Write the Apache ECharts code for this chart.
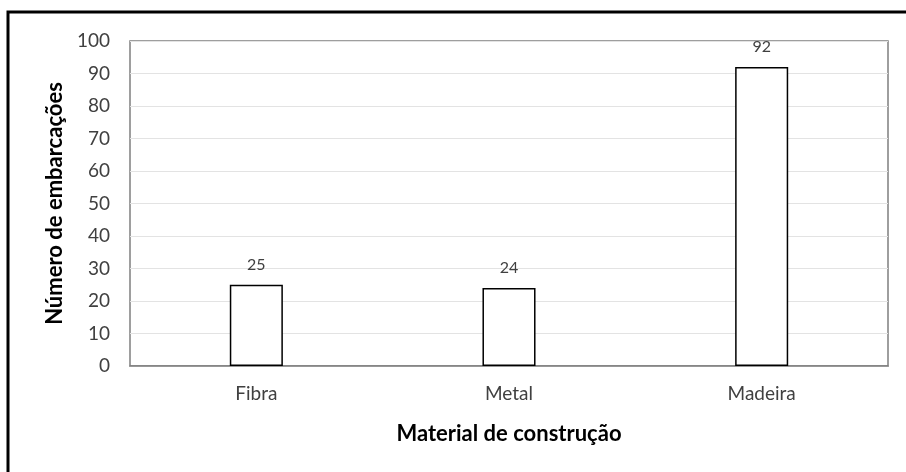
<!DOCTYPE html>
<html>
<head>
<meta charset="utf-8">
<script src="https://cdn.jsdelivr.net/npm/echarts@6/dist/echarts.min.js"></script>
<style>
html,body{margin:0;padding:0;background:#fff;}
#chart{width:906px;height:472px;}
</style>
</head>
<body>
<div id="chart"></div>
<script>
const categories = ['Fibra', 'Metal', 'Madeira'];
const values = [25, 24, 92];
const yTicks = [0, 10, 20, 30, 40, 50, 60, 70, 80, 90, 100];
const xTitle = 'Material de construção';
const yTitle = 'Número de embarcações';

const FONT = 'Lato, "Open Sans", sans-serif';
const chart = echarts.init(document.getElementById('chart'), null, {renderer: 'canvas'});
chart.setOption({
  backgroundColor: '#fff',
  animation: false,
  graphic: [{
    type: 'rect',
    shape: {x: 8, y: 12, width: 1200, height: 1200},
    style: {fill: 'none', stroke: '#000', lineWidth: 3},
    z: 100
  }],
  grid: {
    left: 130, right: 18, top: 41, bottom: 106,
    show: true, borderColor: '#7f7f7f', borderWidth: 1.5
  },
  xAxis: {
    type: 'category',
    data: categories,
    name: xTitle,
    nameLocation: 'middle',
    nameGap: 57,
    nameTextStyle: {fontFamily: FONT, fontSize: 22, fontWeight: 'bold', color: '#000'},
    axisLine: {show: true, lineStyle: {color: '#7f7f7f', width: 1.5}},
    axisTick: {show: false},
    axisLabel: {fontFamily: FONT, fontSize: 19, color: '#404040', margin: 18}
  },
  yAxis: {
    type: 'value',
    min: yTicks[0],
    max: yTicks[yTicks.length - 1],
    interval: yTicks[1] - yTicks[0],
    name: yTitle,
    nameLocation: 'middle',
    nameGap: 62,
    nameTextStyle: {fontFamily: FONT, fontSize: 22, fontWeight: 'bold', color: '#000'},
    axisLine: {show: false},
    axisTick: {show: false},
    axisLabel: {fontFamily: FONT, fontSize: 19, color: '#404040', margin: 20},
    splitLine: {show: true, lineStyle: {color: '#e3e3e3', width: 1}}
  },
  series: [{
    type: 'bar',
    data: values,
    barWidth: '21%',
    itemStyle: {color: '#fff', borderColor: '#000', borderWidth: 1.5},
    label: {show: true, position: 'top', distance: 12, fontFamily: FONT, fontSize: 16, color: '#404040'}
  }]
});
</script>
</body>
</html>
